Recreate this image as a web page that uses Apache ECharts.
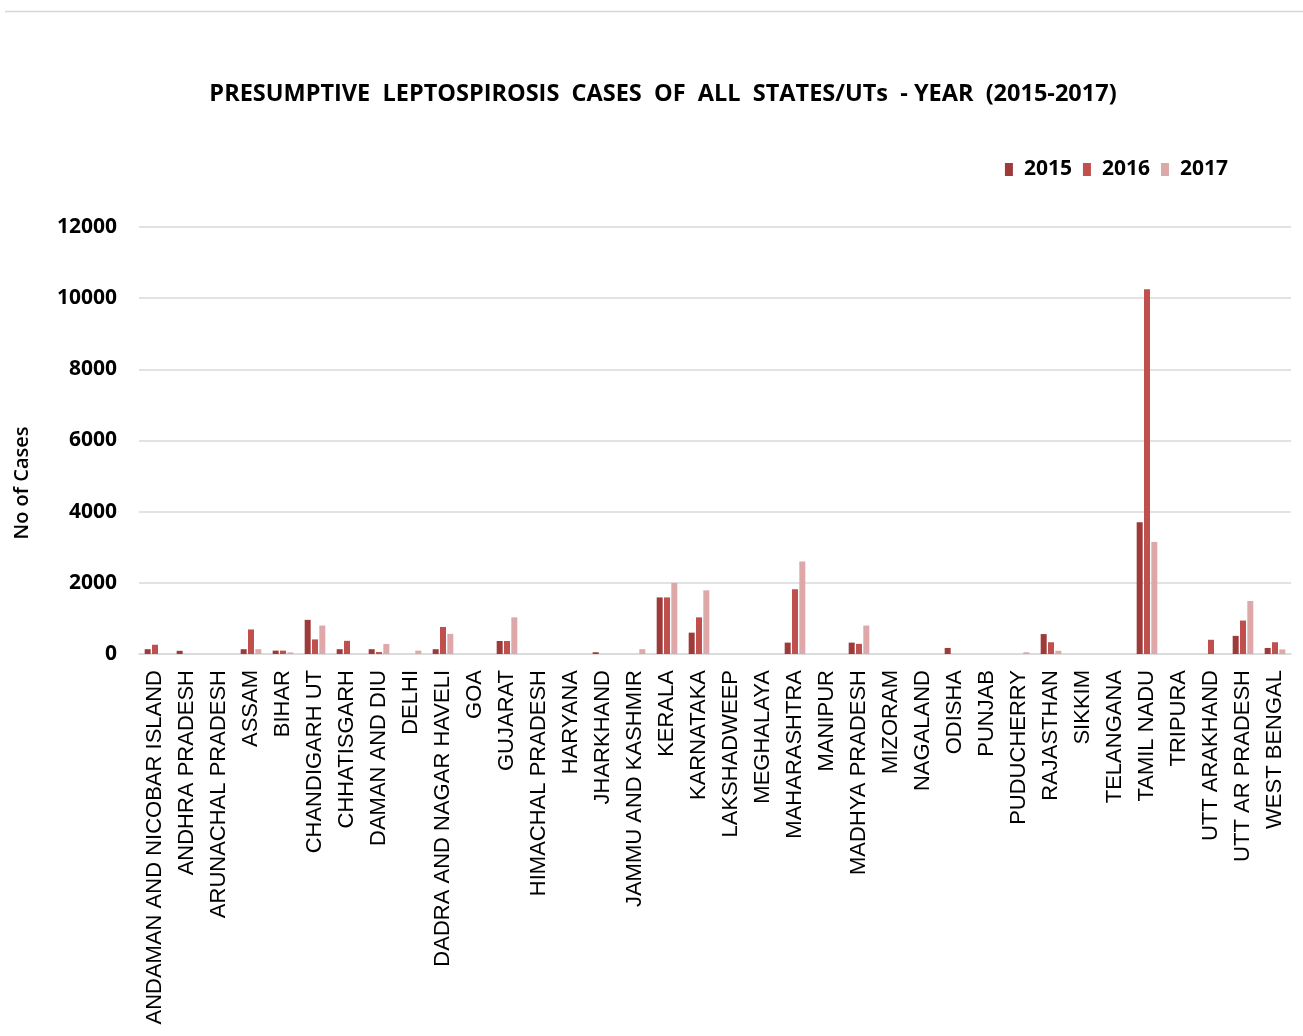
<!DOCTYPE html>
<html><head><meta charset="utf-8">
<script src="https://cdn.jsdelivr.net/npm/echarts@6/dist/echarts.min.js"></script>
<style>html,body{margin:0;padding:0;background:#fff}#c{width:1303px;height:1036px}</style>
</head><body><div id="c"></div>
<script>
const categories = ["ANDAMAN AND NICOBAR ISLAND","ANDHRA PRADESH","ARUNACHAL PRADESH","ASSAM","BIHAR","CHANDIGARH UT","CHHATISGARH","DAMAN AND DIU","DELHI","DADRA AND NAGAR HAVELI","GOA","GUJARAT","HIMACHAL PRADESH","HARYANA","JHARKHAND","JAMMU AND KASHMIR","KERALA","KARNATAKA","LAKSHADWEEP","MEGHALAYA","MAHARASHTRA","MANIPUR","MADHYA PRADESH","MIZORAM","NAGALAND","ODISHA","PUNJAB","PUDUCHERRY","RAJASTHAN","SIKKIM","TELANGANA","TAMIL NADU","TRIPURA","UTT ARAKHAND","UTT AR PRADESH","WEST BENGAL"];
const y2015 = [135,90,0,135,95,960,135,135,0,135,0,365,0,0,50,0,1590,600,0,0,320,0,320,0,0,170,0,0,560,0,0,3700,0,0,510,170];
const y2016 = [260,0,0,690,95,410,370,55,0,760,0,365,0,0,0,0,1590,1030,0,0,1820,0,285,0,0,0,0,0,330,0,0,10250,0,400,940,330];
const y2017 = [0,0,0,135,45,800,0,280,95,565,0,1030,0,0,0,135,2000,1790,0,0,2600,0,800,0,0,0,0,50,90,0,0,3150,0,0,1490,130];
const seriesNames = ["2015","2016","2017"];
const colors = ["#9e3b3a","#c0504d","#dca9a8"];

const chart = echarts.init(document.getElementById('c'));
const mk = (name, data, i) => ({
  name, type: 'bar', data, barWidth: 6, barGap: '22%',
  itemStyle: {color: colors[i], borderWidth: 0}
});
chart.setOption({
  animation: false,
  title: {
    text: 'PRESUMPTIVE  LEPTOSPIROSIS  CASES  OF  ALL  STATES/UTs  - YEAR  (2015-2017)',
    left: 658, top: 77, textAlign: 'center',
    textStyle: {fontFamily: 'Open Sans', fontWeight: 'bold', fontSize: 23.5, color: '#000'}
  },
  legend: {
    data: seriesNames, right: 70, top: 154, itemWidth: 8, itemHeight: 13, itemGap: 11,
    icon: 'rect',
    textStyle: {fontFamily: 'Open Sans', fontWeight: 'bold', fontSize: 21, color: '#000', padding: [0,0,0,6]}
  },
  graphic: [
    {type: 'line', shape: {x1: 5, y1: 11.5, x2: 1303, y2: 11.5}, style: {stroke: '#d6d6d6', lineWidth: 1.5}},
    {type: 'text', x: 22, y: 483, rotation: Math.PI / 2,
     style: {text: 'No of Cases', fontFamily: 'Open Sans', fontWeight: 600, fontSize: 20, fill: '#000', align: 'center', verticalAlign: 'middle'}}
  ],
  grid: {left: 139, right: 12, top: 227, bottom: 382},
  xAxis: {
    type: 'category', data: categories,
    axisLine: {lineStyle: {color: '#d9d9d9', width: 1.5}},
    axisTick: {show: false},
    axisLabel: {rotate: 90, interval: 0, margin: 16, fontFamily: 'Liberation Sans', fontSize: 22, color: '#000'}
  },
  yAxis: {
    type: 'value', min: 0, max: 12000, interval: 2000,
    axisLine: {show: false}, axisTick: {show: false},
    splitLine: {lineStyle: {color: '#d9d9d9', width: 1.5}},
    axisLabel: {margin: 22, fontFamily: 'Open Sans', fontWeight: 'bold', fontSize: 21, color: '#000', formatter: v => String(v)}
  },
  series: [mk('2015', y2015, 0), mk('2016', y2016, 1), mk('2017', y2017, 2)]
});
</script></body></html>
